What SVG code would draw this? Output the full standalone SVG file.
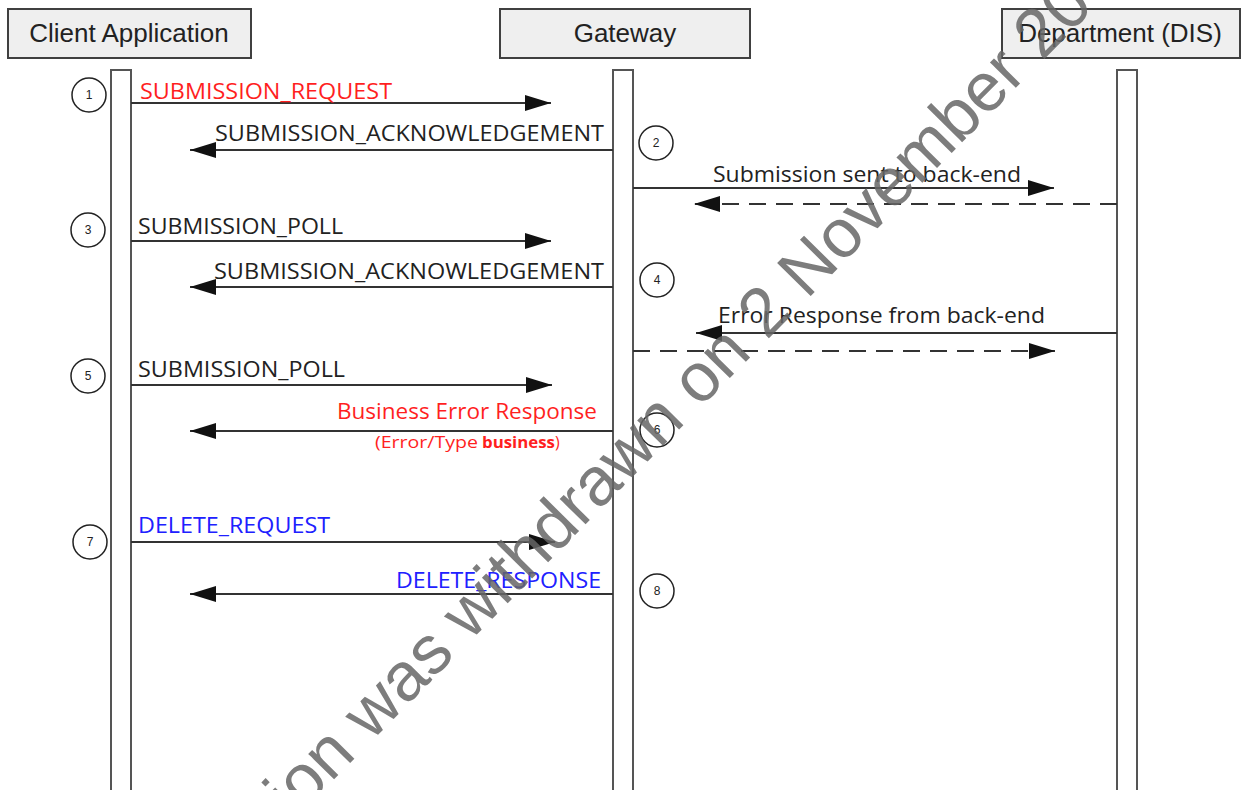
<svg xmlns="http://www.w3.org/2000/svg" width="1245" height="790" viewBox="0 0 1245 790">
<style>
.hdr{fill:#efefef;stroke:#404040;stroke-width:2}
.hdrt{font-family:"Liberation Sans",Arial,sans-serif;font-size:26px;fill:#222;text-anchor:middle}
.life{fill:#fff;stroke:#555;stroke-width:2}
.num{fill:#fff;stroke:#222;stroke-width:1.5}
.numt{font-family:"Liberation Sans",Arial,sans-serif;font-size:12px;fill:#222;text-anchor:middle}
.msg{stroke:#333;stroke-width:2;fill:none}
.dash{stroke-dasharray:17 10}
.lbl{font-family:"Open Sans","Noto Sans",sans-serif;font-size:21px;fill:#222}
.red{fill:#ff1f1f}
.blue{fill:#2020ff}
.small{font-family:"Open Sans","Noto Sans",sans-serif;font-size:16px;fill:#ff1f1f}
.wm{font-family:"Liberation Sans",Arial,sans-serif;font-size:68.5px;fill:#666;fill-opacity:0.85}
</style>
<defs>
<marker id="ah" markerUnits="userSpaceOnUse" markerWidth="26" markerHeight="16" viewBox="0 0 26 16" refX="26" refY="8" orient="auto">
<path d="M0,0 L26,8 L0,16 z" fill="#111"/>
</marker>
</defs>
<rect width="1245" height="790" fill="#fff"/>

<g id="client">
<rect class="hdr" x="8" y="9" width="243" height="49"/>
<text class="hdrt" x="129" y="42">Client Application</text>
<rect class="life" x="111" y="70" width="20" height="740"/>
</g>
<g id="gateway">
<rect class="hdr" x="500" y="9" width="250" height="49"/>
<text class="hdrt" x="625" y="42">Gateway</text>
<rect class="life" x="613" y="70" width="20" height="740"/>
</g>
<g id="department">
<rect class="hdr" x="1002" y="9" width="238" height="49"/>
<text class="hdrt" x="1120" y="42">Department (DIS)</text>
<rect class="life" x="1117" y="70" width="20" height="740"/>
</g>

<g id="steps">
<circle class="num" cx="89" cy="95" r="17"/><text class="numt" x="89" y="99">1</text>
<circle class="num" cx="656" cy="143" r="17"/><text class="numt" x="656" y="147">2</text>
<circle class="num" cx="88" cy="230" r="17"/><text class="numt" x="88" y="234">3</text>
<circle class="num" cx="657" cy="280" r="17"/><text class="numt" x="657" y="284">4</text>
<circle class="num" cx="88" cy="376" r="17"/><text class="numt" x="88" y="380">5</text>
<circle class="num" cx="657" cy="430" r="17"/><text class="numt" x="657" y="434">6</text>
<circle class="num" cx="90" cy="542" r="17"/><text class="numt" x="90" y="546">7</text>
<circle class="num" cx="657" cy="591" r="17"/><text class="numt" x="657" y="595">8</text>
</g>

<g id="connectors">
<line class="msg" x1="131" y1="103" x2="551" y2="103" marker-end="url(#ah)"/>
<line class="msg" x1="613" y1="150" x2="190" y2="150" marker-end="url(#ah)"/>
<line class="msg" x1="633" y1="188" x2="1054" y2="188" marker-end="url(#ah)"/>
<line class="msg dash" x1="1117" y1="204" x2="694" y2="204" marker-end="url(#ah)"/>
<line class="msg" x1="131" y1="241" x2="551" y2="241" marker-end="url(#ah)"/>
<line class="msg" x1="613" y1="287" x2="190" y2="287" marker-end="url(#ah)"/>
<line class="msg" x1="1117" y1="333" x2="696" y2="333" marker-end="url(#ah)"/>
<line class="msg dash" x1="633" y1="351" x2="1055" y2="351" marker-end="url(#ah)"/>
<line class="msg" x1="131" y1="385" x2="552" y2="385" marker-end="url(#ah)"/>
<line class="msg" x1="613" y1="431" x2="190" y2="431" marker-end="url(#ah)"/>
<line class="msg" x1="131" y1="542" x2="555" y2="542" marker-end="url(#ah)"/>
<line class="msg" x1="613" y1="594" x2="190" y2="594" marker-end="url(#ah)"/>
</g>

<g id="labels">
<text class="lbl red" x="140" y="99" textLength="252" lengthAdjust="spacingAndGlyphs">SUBMISSION_REQUEST</text>
<text class="lbl" x="215" y="141" textLength="389" lengthAdjust="spacingAndGlyphs">SUBMISSION_ACKNOWLEDGEMENT</text>
<text class="lbl" x="713" y="182" textLength="308" lengthAdjust="spacingAndGlyphs">Submission sent to back-end</text>
<text class="lbl" x="138" y="234" textLength="205" lengthAdjust="spacingAndGlyphs">SUBMISSION_POLL</text>
<text class="lbl" x="214" y="279" textLength="390" lengthAdjust="spacingAndGlyphs">SUBMISSION_ACKNOWLEDGEMENT</text>
<text class="lbl" x="718" y="323" textLength="327" lengthAdjust="spacingAndGlyphs">Error Response from back-end</text>
<text class="lbl" x="138" y="377" textLength="207" lengthAdjust="spacingAndGlyphs">SUBMISSION_POLL</text>
<text class="lbl red" x="337" y="419" textLength="260" lengthAdjust="spacingAndGlyphs">Business Error Response</text>
<text class="small" x="375" y="448" textLength="103" lengthAdjust="spacingAndGlyphs">(Error/Type</text>
<text class="small" x="482" y="448" font-weight="bold" textLength="73" lengthAdjust="spacingAndGlyphs">business</text>
<text class="small" x="555" y="448">)</text>
<text class="lbl blue" x="138" y="533" textLength="192" lengthAdjust="spacingAndGlyphs">DELETE_REQUEST</text>
<text class="lbl blue" x="396" y="588" textLength="205" lengthAdjust="spacingAndGlyphs">DELETE_RESPONSE</text>
</g>

<text class="wm" transform="translate(293.4,820.6) rotate(-45.4)">ion was withdrawn on 2 November 20</text>
</svg>
